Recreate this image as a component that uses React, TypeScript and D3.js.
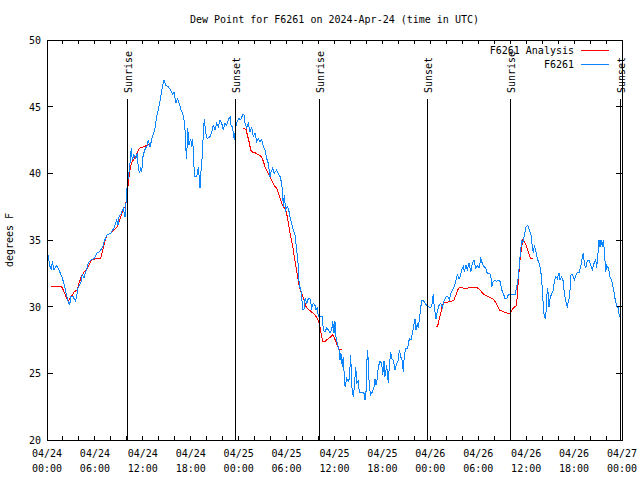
import React from "react";
import * as d3 from "d3";

const titleText = "Dew Point for F6261 on 2024-Apr-24 (time in UTC)";
const yAxisLabel = "degrees F";
const startMs = Date.UTC(2024, 3, 24, 0, 0);
const endMs = Date.UTC(2024, 3, 27, 0, 0);

const yTicks = [20, 25, 30, 35, 40, 45, 50];

// hours since 2024-04-24 00:00 UTC
const obsHours = [
  0.13, 0.38, 0.54, 0.66, 0.88, 1.21, 1.5, 1.92, 2.22, 2.54, 2.84, 2.97, 3.26, 3.59, 3.92, 4.22, 4.42, 4.63, 4.85, 5.17,
  5.47, 5.89, 6.22, 6.51, 6.92, 7.23, 7.55, 7.98, 8.39, 8.73, 8.89, 9.02, 9.3, 9.55, 9.77, 9.86, 9.98, 10.06, 10.27, 10.39,
  10.56, 10.68, 10.89, 11.11, 11.31, 11.43, 11.61, 11.73, 11.86, 12.02, 12.23, 12.56, 12.68, 12.9, 13.06, 13.19, 13.49, 13.74, 14.02, 14.24,
  14.44, 14.65, 14.86, 15.15, 15.49, 15.74, 15.9, 16.15, 16.32, 16.57, 16.78, 16.99, 17.16, 17.28, 17.37, 17.49, 17.62, 17.78, 17.99, 18.12,
  18.24, 18.41, 18.53, 18.75, 18.95, 19.16, 19.28, 19.45, 19.57, 19.7, 19.87, 20.07, 20.41, 20.62, 20.82, 21.04, 21.25, 21.45, 21.66, 21.88,
  22.08, 22.29, 22.5, 22.7, 22.92, 23.04, 23.2, 23.33, 23.45, 23.63, 23.83, 24.04, 24.26, 24.51, 24.67, 24.79, 25.01, 25.21, 25.42, 25.63,
  25.83, 26.05, 26.26, 26.46, 26.67, 26.88, 27.09, 27.3, 27.51, 27.71, 27.92, 28.05, 28.26, 28.46, 28.76, 28.96, 29.18, 29.39, 29.51, 29.59,
  29.71, 29.89, 30.09, 30.27, 30.43, 30.64, 30.84, 31.05, 31.27, 31.47, 31.59, 31.77, 31.89, 32.02, 32.18, 32.31, 32.52, 32.72, 32.93, 33.14,
  33.35, 33.56, 33.68, 33.85, 33.97, 34.18, 34.47, 34.6, 34.81, 35.02, 35.23, 35.44, 35.65, 35.78, 35.94, 36.06, 36.19, 36.35, 36.56, 36.69,
  36.81, 36.98, 37.1, 37.23, 37.32, 37.53, 37.73, 37.86, 38.03, 38.16, 38.36, 38.48, 38.66, 38.78, 38.98, 39.11, 39.28, 39.53, 39.69, 39.82,
  39.94, 40.11, 40.23, 40.36, 40.53, 40.73, 40.95, 41.07, 41.2, 41.36, 41.49, 41.7, 41.91, 42.04, 42.2, 42.32, 42.54, 42.74, 42.86, 43.04,
  43.16, 43.36, 43.58, 43.79, 43.99, 44.12, 44.29, 44.45, 44.62, 44.74, 44.95, 45.17, 45.37, 45.58, 45.87, 46.08, 46.21, 46.37, 46.49, 46.71,
  46.92, 47.12, 47.33, 47.55, 47.75, 47.96, 48.17, 48.37, 48.5, 48.71, 48.87, 49.09, 49.3, 49.5, 49.71, 49.96, 50.18, 50.38, 50.59, 50.8,
  51.0, 51.22, 51.38, 51.59, 51.72, 51.93, 52.13, 52.26, 52.47, 52.63, 52.84, 53.06, 53.26, 53.47, 53.68, 53.88, 54.1, 54.31, 54.51, 54.72,
  54.93, 55.13, 55.35, 55.56, 55.69, 55.89, 56.1, 56.31, 56.51, 56.72, 56.94, 57.14, 57.35, 57.56, 57.77, 57.98, 58.39, 58.6, 58.82, 59.02,
  59.23, 59.44, 59.57, 59.73, 59.98, 60.19, 60.39, 60.61, 60.77, 60.9, 61.02, 61.23, 61.4, 61.61, 61.82, 61.95, 62.07, 62.15, 62.27, 62.45,
  62.57, 62.7, 62.86, 62.99, 63.2, 63.4, 63.53, 63.7, 63.9, 64.11, 64.24, 64.45, 64.65, 64.78, 64.95, 65.15, 65.37, 65.49, 65.62, 65.83,
  66.03, 66.24, 66.45, 66.66, 66.87, 67.03, 67.16, 67.28, 67.46, 67.66, 67.87, 68.08, 68.28, 68.5, 68.71, 68.83, 68.96, 69.12, 69.25, 69.37,
  69.54, 69.66, 69.79, 69.96, 70.09, 70.29, 70.5, 70.71, 70.91, 71.13, 71.34, 71.54, 71.66,
];
const obsValues = [
  33.9, 33.0, 32.75, 33.4, 32.75, 33.1, 32.75, 32.15, 31.5, 30.6, 30.1, 30.75, 30.75, 30.4, 31.5, 31.75, 32.4, 32.15, 32.6, 33.25,
  33.5, 33.6, 34.0, 34.1, 34.4, 35.0, 35.4, 35.5, 35.9, 36.5, 36.1, 36.75, 37.0, 37.4, 36.75, 37.5, 38.5, 39.25, 40.1, 40.75,
  41.9, 41.0, 41.4, 41.1, 41.5, 40.4, 40.0, 40.5, 40.1, 41.25, 41.75, 42.1, 42.5, 42.0, 42.4, 42.75, 43.25, 44.25, 45.0, 45.75,
  46.5, 47.0, 46.6, 46.5, 46.25, 45.9, 46.1, 45.25, 45.6, 45.25, 44.75, 44.5, 44.0, 43.25, 41.9, 41.1, 43.4, 42.1, 42.6, 42.0,
  42.6, 40.5, 39.75, 39.75, 40.5, 38.9, 40.1, 41.4, 42.9, 44.1, 43.0, 42.6, 42.75, 43.1, 43.6, 43.25, 43.75, 43.5, 44.0, 43.75,
  43.25, 43.75, 43.6, 44.0, 44.25, 43.6, 43.5, 43.0, 42.5, 43.5, 43.9, 44.1, 44.0, 44.4, 44.4, 43.75, 43.4, 43.75, 43.1, 43.5,
  42.75, 43.0, 42.4, 42.6, 42.4, 42.5, 42.0, 41.75, 41.1, 40.75, 39.75, 40.1, 40.4, 40.0, 40.25, 40.0, 39.75, 39.25, 38.4, 37.5,
  38.4, 37.25, 37.5, 37.25, 36.75, 36.25, 35.75, 35.4, 34.25, 33.0, 31.5, 31.4, 30.75, 29.8, 29.8, 30.6, 30.25, 30.6, 30.6, 29.9,
  30.25, 30.1, 29.75, 29.9, 29.3, 29.3, 29.25, 28.25, 28.1, 28.4, 28.25, 28.0, 28.25, 28.9, 28.0, 28.9, 27.75, 27.25, 26.75, 26.0,
  26.5, 25.5, 26.25, 24.75, 24.0, 24.6, 24.4, 24.6, 26.4, 24.0, 23.25, 24.0, 25.5, 24.25, 24.4, 23.6, 23.6, 23.6, 23.5, 23.0,
  23.5, 26.75, 26.0, 23.9, 23.4, 23.6, 24.0, 24.6, 24.1, 24.6, 25.5, 25.9, 25.75, 24.9, 25.9, 24.75, 25.6, 24.25, 25.5, 26.6,
  26.1, 26.0, 25.25, 25.75, 26.0, 26.75, 26.25, 26.0, 25.1, 26.4, 26.9, 26.9, 27.6, 27.5, 28.4, 29.1, 28.25, 28.75, 28.4, 29.5,
  30.5, 30.5, 30.25, 30.1, 30.0, 29.9, 30.0, 30.95, 29.9, 29.1, 29.6, 30.1, 30.25, 29.9, 30.4, 30.75, 30.8, 30.5, 31.0, 31.25,
  31.5, 32.0, 32.4, 32.1, 32.25, 32.75, 33.0, 32.6, 33.1, 32.75, 33.25, 32.6, 33.25, 33.5, 32.9, 33.1, 32.9, 33.6, 33.25, 33.0,
  32.9, 32.5, 32.5, 32.4, 31.5, 31.9, 32.0, 31.9, 32.0, 31.9, 31.25, 31.0, 30.6, 30.6, 30.9, 30.9, 30.9, 30.9, 31.5, 32.25,
  33.75, 35.0, 34.75, 35.25, 36.0, 36.1, 35.75, 35.4, 34.5, 34.0, 34.6, 34.1, 33.6, 33.25, 32.75, 31.9, 31.0, 29.9, 29.25, 29.1,
  30.75, 31.4, 30.0, 30.6, 31.0, 31.25, 31.9, 32.25, 32.1, 32.5, 32.0, 32.25, 31.9, 31.0, 30.4, 30.0, 30.6, 31.25, 32.4, 32.4,
  32.0, 32.4, 32.6, 32.6, 33.1, 33.75, 34.0, 33.25, 32.9, 33.5, 33.5, 33.1, 32.75, 33.25, 33.5, 32.9, 33.75, 35.0, 34.5, 35.0,
  34.5, 35.0, 34.25, 32.6, 33.1, 32.9, 32.25, 32.0, 31.4, 30.6, 30.0, 29.9, 29.25,
];

// Analysis series; null marks a gap in the data
const analysisHours = [
  0.54, 1.09, 1.72, 1.92, 2.22, 2.54, 2.75, 3.04, 3.38, 3.79, 4.01, 4.3, 4.63, 4.97, 5.26, 5.55, 6.1, 6.72, 6.92, 7.23,
  7.55, 7.98, 8.39, 8.8, 9.23, 9.52, 9.77, 9.98, 10.14, 10.31, 10.56, 10.81, 11.11, 11.31, 11.61, 11.93, 12.36, 12.65, 12.81,
  18.0,
  24.51, 24.92, 25.08, 25.29, 25.51, 25.71, 26.05, 26.46, 26.88, 27.09, 27.3, 27.59, 27.92, 28.14, 28.43, 28.76, 29.05, 29.3, 29.59, 29.89,
  30.09, 30.3, 30.52, 30.77, 30.97, 31.18, 31.39, 31.59, 31.89, 32.18, 32.43, 32.72, 33.14, 33.56, 33.85, 34.1, 34.31, 34.52, 34.81, 35.1,
  35.44, 35.78, 36.06, 36.35, 36.6, 36.9,
  42.0,
  48.67, 48.92, 49.09, 49.3, 49.5, 49.75, 50.05, 50.38, 50.68, 50.96, 51.22, 51.43, 51.63, 52.13, 52.76, 53.38, 53.81, 54.22, 54.63, 55.06,
  55.47, 55.81, 56.1, 56.39, 56.64, 56.94, 57.35, 57.77, 57.98, 58.19, 58.39, 58.73, 58.89, 59.02, 59.23, 59.44, 59.57, 59.77, 59.98, 60.19,
  60.39, 60.57, 60.82,
];
const analysisValues = [
  31.5, 31.55, 31.55, 31.4, 31.0, 30.5, 30.5, 30.75, 31.1, 31.25, 31.75, 32.25, 32.6, 32.75, 33.1, 33.5, 33.6, 33.6, 34.1, 34.9,
  35.4, 35.5, 35.75, 36.0, 36.75, 37.25, 37.5, 38.1, 39.0, 40.0, 40.75, 41.0, 41.25, 41.6, 41.9, 41.95, 42.05, 42.2, 42.2,
  null,
  43.4, 43.3, 42.9, 42.4, 41.75, 41.6, 41.55, 41.4, 41.25, 40.9, 40.5, 40.1, 39.75, 39.5, 39.1, 38.9, 38.4, 37.9, 37.5, 37.25,
  36.75, 36.0, 35.25, 34.5, 33.75, 33.0, 32.25, 31.5, 31.0, 30.5, 30.0, 29.8, 29.6, 29.4, 29.1, 28.75, 28.0, 27.4, 27.4, 27.55,
  27.7, 27.9, 27.55, 27.1, 26.8, 26.8,
  null,
  28.5, 28.55, 29.0, 29.5, 30.1, 30.3, 30.3, 30.4, 30.4, 30.5, 30.9, 31.25, 31.45, 31.4, 31.4, 31.45, 31.45, 31.25, 30.95, 30.8,
  30.7, 30.6, 30.4, 30.1, 29.75, 29.7, 29.55, 29.5, 29.5, 29.7, 29.9, 30.05, 30.75, 32.0, 33.5, 34.5, 35.0, 34.9, 34.6, 34.25,
  33.9, 33.6, 33.6,
];

const sunLabels = ["Sunrise", "Sunset", "Sunrise", "Sunset", "Sunrise", "Sunset"];
const sunHours = [10.05, 23.58, 34.08, 47.63, 58.0, 71.7];

const seriesNames = ["F6261 Analysis", "F6261"];
const seriesColors = ["#ff0000", "#0a84ff"];

const W = 640;
const H = 480;
const M = { left: 47, right: 18, top: 40, bottom: 40 };
const FONT = "'DejaVu Sans Mono', 'Liberation Mono', monospace";

const toDate = (h: number) => new Date(startMs + h * 3600000);

export default function App() {
  const x = d3.scaleUtc().domain([new Date(startMs), new Date(endMs)]).range([M.left, W - M.right]);
  const y = d3.scaleLinear().domain([20, 50]).range([H - M.bottom, M.top]);

  const obs = obsHours.map((h, i) => ({ t: toDate(h), v: obsValues[i] }));
  const ana = analysisHours.map((h, i) => ({ t: toDate(h), v: analysisValues[i] }));

  const line = d3
    .line<{ t: Date; v: number | null }>()
    .defined((d) => d.v !== null)
    .x((d) => x(d.t))
    .y((d) => y(d.v as number));

  const minorTicks = d3.utcHour.every(2)!.range(new Date(startMs), new Date(endMs + 1));
  const labelTicks = d3.utcHour.every(6)!.range(new Date(startMs), new Date(endMs + 1));
  const fmtDay = d3.utcFormat("%m/%d");
  const fmtTime = d3.utcFormat("%H:%M");

  const x0 = M.left;
  const x1 = W - M.right;
  const y0 = M.top;
  const y1 = H - M.bottom;

  return (
    <svg
      width={W}
      height={H}
      style={{ position: "absolute", left: 0, top: 0, background: "#fff" }}
      fontFamily={FONT}
      fontSize={10}
    >
      <rect x={0} y={0} width={W} height={H} fill="#fff" />
      <text x={(x0 + x1) / 2} y={23} textAnchor="middle" fill="#000">
        {titleText}
      </text>
      <text transform={`translate(13,${(y0 + y1) / 2}) rotate(-90)`} textAnchor="middle" fill="#000">
        {yAxisLabel}
      </text>

      {/* y ticks */}
      {yTicks.map((t) => (
        <g key={"y" + t} shapeRendering="crispEdges">
          <line x1={x0} x2={x0 + 6} y1={y(t)} y2={y(t)} stroke="#000" />
          <line x1={x1 - 6} x2={x1} y1={y(t)} y2={y(t)} stroke="#000" />
          <text x={41} y={y(t) + 4} textAnchor="end" fill="#000">
            {t}
          </text>
        </g>
      ))}

      {/* x ticks */}
      {minorTicks.map((d, i) => (
        <g key={"xt" + i} shapeRendering="crispEdges">
          <line x1={x(d)} x2={x(d)} y1={y1} y2={y1 - 4} stroke="#000" />
          <line x1={x(d)} x2={x(d)} y1={y0} y2={y0 + 4} stroke="#000" />
        </g>
      ))}
      {labelTicks.map((d, i) => (
        <g key={"xl" + i}>
          <text x={x(d)} y={457} textAnchor="middle" fill="#000">
            {fmtDay(d)}
          </text>
          <text x={x(d)} y={472} textAnchor="middle" fill="#000">
            {fmtTime(d)}
          </text>
        </g>
      ))}

      {/* data */}
      <path d={line(ana) || ""} fill="none" stroke={seriesColors[0]} strokeWidth={1} shapeRendering="crispEdges" />
      <path d={line(obs) || ""} fill="none" stroke={seriesColors[1]} strokeWidth={1} shapeRendering="crispEdges" />

      {/* sunrise / sunset */}
      {sunHours.map((h, i) => {
        const sx = Math.round(x(toDate(h))) + 0.5;
        return (
          <g key={"sun" + i}>
            <line x1={sx} x2={sx} y1={99} y2={y1} stroke="#000" strokeWidth={1} shapeRendering="crispEdges" />
            <text transform={`translate(${sx + 4},93) rotate(-90)`} textAnchor="start" fill="#000">
              {sunLabels[i]}
            </text>
          </g>
        );
      })}

      {/* frame */}
      <rect
        x={x0 + 0.5}
        y={y0 + 0.5}
        width={x1 - x0}
        height={y1 - y0}
        fill="none"
        stroke="#000"
        shapeRendering="crispEdges"
      />

      {/* legend */}
      {seriesNames.map((n, i) => (
        <g key={"lg" + i}>
          <text x={574} y={54 + i * 14} textAnchor="end" fill="#000">
            {n}
          </text>
          <line
            x1={581}
            x2={609}
            y1={50.5 + i * 14}
            y2={50.5 + i * 14}
            stroke={seriesColors[i]}
            shapeRendering="crispEdges"
          />
        </g>
      ))}
    </svg>
  );
}
